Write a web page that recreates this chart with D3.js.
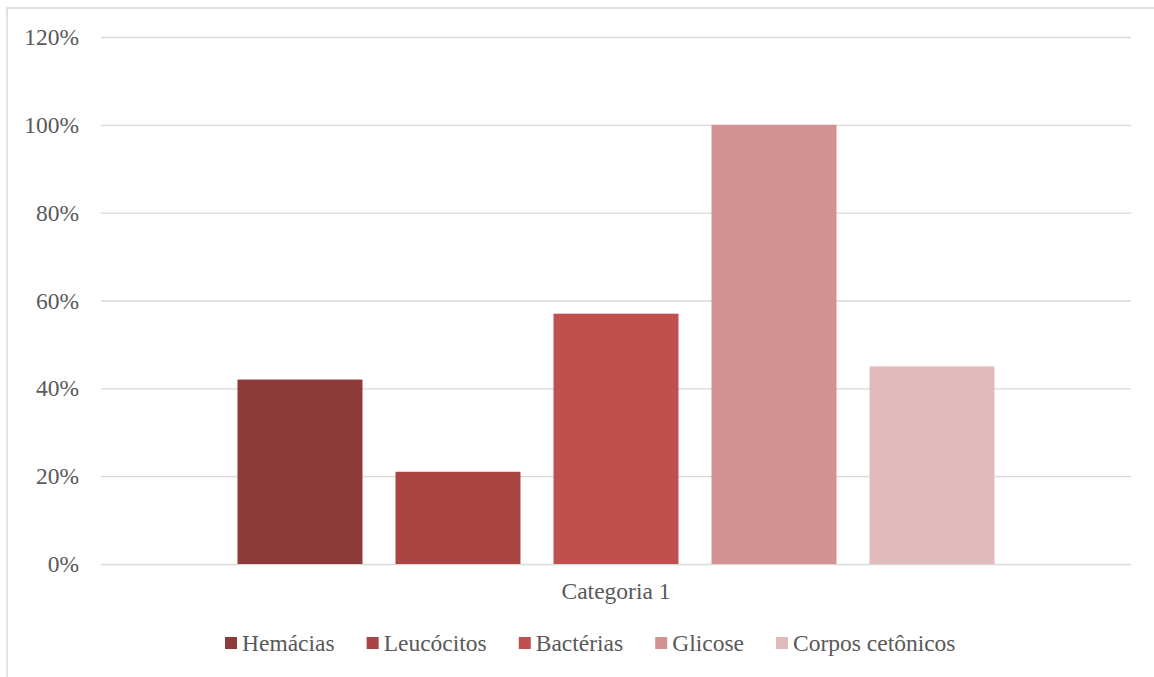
<!DOCTYPE html>
<html>
<head>
<meta charset="utf-8">
<script src="https://cdn.jsdelivr.net/npm/d3@7"></script>
<style>
  html, body { margin: 0; padding: 0; background: #fff; }
  svg { display: block; }
  text { font-family: "Liberation Serif", "Times New Roman", serif; fill: #595959; }
</style>
</head>
<body>
<svg id="chart" width="1154" height="677"></svg>
<script>
// Data
const categories = ["Categoria 1"];
const seriesNames = ["Hemácias", "Leucócitos", "Bactérias", "Glicose", "Corpos cetônicos"];
const seriesValues = [0.42, 0.21, 0.57, 1.00, 0.45];
const seriesColors = ["#8E3A38", "#AA4543", "#C0504E", "#D29291", "#E1BBBB"];
const yTicks = [0, 0.2, 0.4, 0.6, 0.8, 1.0, 1.2];

const W = 1154, H = 677;
const plot = { left: 101, right: 1131, top: 37, bottom: 564 };
const fontSize = 23.5;
const serif = '"Liberation Serif", "Times New Roman", serif';

const svg = d3.select("#chart");

// Chart area border (extends off the right and bottom edges)
svg.append("rect")
  .attr("x", 7).attr("y", 8)
  .attr("width", 1200).attr("height", 720)
  .attr("fill", "none")
  .attr("stroke", "#D9D9D9")
  .attr("stroke-width", 1.5);

const y = d3.scaleLinear().domain([0, 1.2]).range([plot.bottom, plot.top]);

const x0 = d3.scaleBand()
  .domain(categories)
  .range([plot.left, plot.right])
  .paddingInner(0)
  .paddingOuter(0.1803);

const x1 = d3.scaleBand()
  .domain(seriesNames)
  .range([0, x0.bandwidth()])
  .paddingInner(0.209)
  .paddingOuter(0);

// Gridlines + y labels
const yAxis = d3.axisLeft(y)
  .tickValues(yTicks)
  .tickFormat(d3.format(".0%"))
  .tickSize(-(plot.right - plot.left))
  .tickPadding(22);

const gy = svg.append("g")
  .attr("transform", `translate(${plot.left},0)`)
  .call(yAxis)
  .attr("font-family", serif);
gy.select(".domain").remove();
gy.selectAll(".tick line")
  .attr("stroke", "#D9D9D9")
  .attr("stroke-width", 1.3);
gy.selectAll(".tick text")
  .attr("font-size", fontSize)
  .attr("fill", "#595959");

// Bars
const gBars = svg.append("g");
categories.forEach(cat => {
  gBars.selectAll(null)
    .data(seriesNames.map((s, i) => ({ s, v: seriesValues[i], c: seriesColors[i] })))
    .join("rect")
    .attr("x", d => x0(cat) + x1(d.s))
    .attr("y", d => y(d.v))
    .attr("width", x1.bandwidth())
    .attr("height", d => y(0) - y(d.v))
    .attr("fill", d => d.c);
});

// Category axis label
const xAxis = d3.axisBottom(x0).tickSize(0).tickPadding(18);
const gx = svg.append("g")
  .attr("transform", `translate(0,${plot.bottom})`)
  .call(xAxis)
  .attr("font-family", serif);
gx.select(".domain").remove();
gx.selectAll(".tick text")
  .attr("font-size", fontSize)
  .attr("fill", "#595959");

// Legend
const legend = svg.append("g");
const items = legend.selectAll("g")
  .data(seriesNames.map((s, i) => ({ s, c: seriesColors[i] })))
  .join("g");
items.append("rect")
  .attr("width", 12).attr("height", 12)
  .attr("y", -6)
  .attr("fill", d => d.c);
items.append("text")
  .attr("x", 17)
  .attr("dy", "0.35em")
  .attr("font-size", fontSize)
  .text(d => d.s);

const gap = 32;
const widths = items.nodes().map(n => 17 + d3.select(n).select("text").node().getComputedTextLength());
let cx = 225;
items.each(function (d, i) {
  d3.select(this).attr("transform", `translate(${cx},643)`);
  cx += widths[i] + gap;
});
</script>
</body>
</html>
